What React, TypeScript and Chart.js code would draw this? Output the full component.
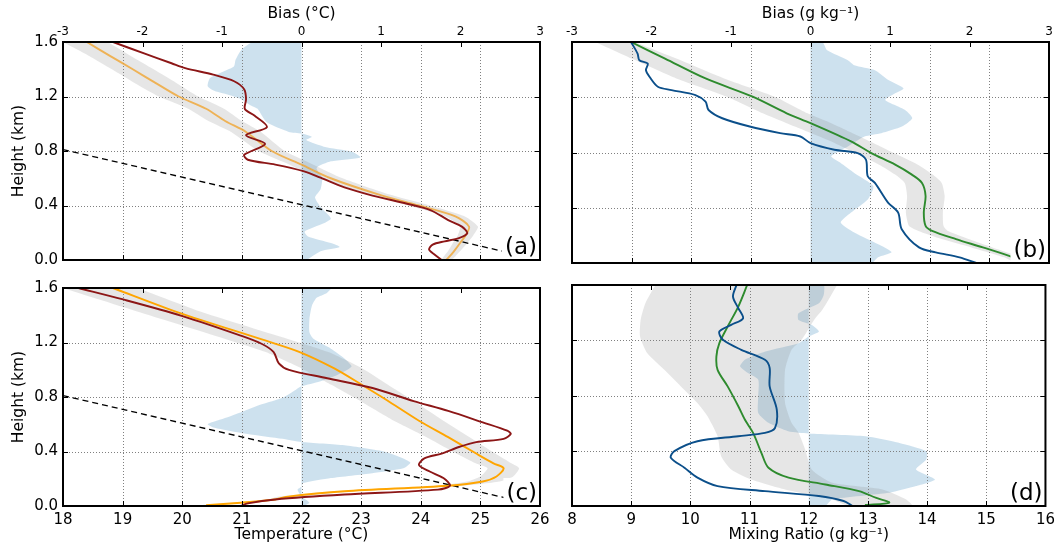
import React, { useEffect, useRef } from "react";
import { Chart, registerables } from "chart.js";

Chart.register(...registerables);

const FONT = "'DejaVu Sans', sans-serif";

// ---------- Tick labels ----------
const TEMP_TICKS = [18, 19, 20, 21, 22, 23, 24, 25, 26];
const MR_TICKS = [8, 9, 10, 11, 12, 13, 14, 15, 16];
const BIAS_TICKS = [-3, -2, -1, 0, 1, 2, 3];
const HEIGHT_TICKS = [0, 0.4, 0.8, 1.2, 1.6];

// ---------- Panel (a): temperature, case 1 ----------
const aModH = [1.6, 1.5, 1.4, 1.3, 1.2, 1.11, 1.02, 0.94, 0.8, 0.7, 0.6, 0.48, 0.4, 0.32, 0.245, 0.18, 0.125, 0.06, 0];
const aModT = [18.4, 18.78, 19.17, 19.55, 19.94, 20.4, 20.72, 21.07, 21.5, 22.0, 22.49, 23.3, 23.97, 24.58, 24.81, 24.75, 24.66, 24.55, 24.43];
const aBandLo = [18.0, 18.43, 18.82, 19.2, 19.61, 20.1, 20.44, 20.82, 21.28, 21.8, 22.29, 23.12, 23.79, 24.42, 24.66, 24.62, 24.54, 24.45, 24.35];
const aBandHi = [18.75, 19.13, 19.52, 19.9, 20.27, 20.7, 21.0, 21.32, 21.72, 22.2, 22.69, 23.48, 24.15, 24.74, 24.96, 24.88, 24.78, 24.65, 24.51];
const aObsH = [1.6, 1.516, 1.444, 1.408, 1.36, 1.312, 1.252, 1.18, 1.108, 1.06, 0.976, 0.916, 0.852, 0.772, 0.736, 0.7, 0.652, 0.604, 0.533, 0.473, 0.413, 0.365, 0.293, 0.245, 0.197, 0.161, 0.137, 0.113, 0.077, 0.041, 0];
const aObsT = [18.84, 19.36, 19.82, 20.05, 20.52, 20.87, 21.04, 21.07, 21.05, 21.21, 21.42, 21.07, 21.39, 21.04, 21.1, 21.56, 22.03, 22.32, 22.72, 23.19, 23.77, 24.17, 24.46, 24.69, 24.78, 24.64, 24.4, 24.2, 24.14, 24.23, 24.35];
const aBiasH = [1.6, 1.54, 1.468, 1.42, 1.384, 1.336, 1.276, 1.24, 1.216, 1.18, 1.132, 1.108, 1.012, 0.94, 0.928, 0.904, 0.88, 0.832, 0.796, 0.753, 0.724, 0.676, 0.604, 0.52, 0.46, 0.389, 0.305, 0.269, 0.209, 0.173, 0.125, 0.096, 0.065, 0];
const aBiasV = [-0.61, -0.76, -0.83, -0.85, -0.98, -1.15, -1.18, -1.09, -0.94, -0.76, -0.63, -0.55, -0.44, -0.16, 0, 0.13, 0.06, 0.28, 0.63, 0.74, 0.37, 0.19, 0.26, 0.24, 0.17, 0.24, 0.37, 0.28, 0.04, 0.08, 0.37, 0.48, 0.24, 0.06];

// ---------- Panel (b): mixing ratio, case 1 ----------
const bModH = [1.6, 1.48, 1.336, 1.204, 1.084, 1.012, 0.88, 0.796, 0.712, 0.64, 0.58, 0.485, 0.365, 0.269, 0.233, 0.173, 0.113, 0.041, 0];
const bModM = [8.99, 9.56, 10.24, 11.03, 11.6, 12.0, 12.68, 13.02, 13.42, 13.7, 13.87, 13.93, 13.9, 13.93, 14.04, 14.44, 14.89, 15.4, 15.6];
const bBandLo = [8.39, 9.0, 9.75, 10.6, 11.2, 11.6, 12.35, 12.75, 13.15, 13.42, 13.58, 13.62, 13.6, 13.65, 13.8, 14.2, 14.7, 15.25, 15.45];
const bBandHi = [9.05, 9.75, 10.55, 11.4, 11.95, 12.35, 13.0, 13.4, 13.8, 14.05, 14.2, 14.25, 14.22, 14.23, 14.3, 14.65, 15.05, 15.55, 15.75];
const bObsH = [1.6, 1.516, 1.468, 1.444, 1.396, 1.348, 1.276, 1.252, 1.216, 1.168, 1.108, 1.048, 0.988, 0.94, 0.916, 0.868, 0.82, 0.796, 0.748, 0.628, 0.58, 0.437, 0.365, 0.245, 0.113, 0.077, 0.041, 0];
const bObsM = [8.99, 9.1, 9.13, 9.27, 9.24, 9.3, 9.44, 9.67, 10.07, 10.24, 10.29, 10.52, 10.98, 11.49, 11.83, 12.0, 12.4, 12.79, 12.93, 12.96, 13.08, 13.3, 13.47, 13.53, 13.82, 14.1, 14.5, 14.78];
const bBiasH = [1.6, 1.54, 1.468, 1.432, 1.396, 1.324, 1.264, 1.228, 1.18, 1.108, 1.048, 0.988, 0.94, 0.916, 0.844, 0.772, 0.724, 0.652, 0.556, 0.46, 0.365, 0.293, 0.221, 0.125, 0.077, 0.041, 0];
const bBiasV = [0.15, 0.21, 0.47, 0.55, 0.81, 0.98, 1.17, 1.06, 0.94, 1.19, 1.28, 1.15, 0.89, 0.68, 0.47, 0.26, 0.38, 0.55, 0.79, 0.72, 0.51, 0.38, 0.55, 0.89, 1.02, 0.85, 0.77];

// ---------- Panel (c): temperature, case 2 ----------
const cModH = [1.6, 1.42, 1.215, 1.13, 1.01, 0.89, 0.78, 0.626, 0.505, 0.385, 0.313, 0.277, 0.217, 0.18, 0.149, 0.108, 0.067, 0.048, 0.024, 0.005];
const cModT = [18.84, 19.94, 21.39, 21.97, 22.55, 23.01, 23.42, 23.97, 24.46, 24.93, 25.22, 25.39, 25.27, 25.04, 24.46, 22.72, 21.74, 21.56, 20.98, 20.4];
const cBandLo = [18.0, 19.3, 20.8, 21.4, 22.0, 22.5, 22.95, 23.55, 24.1, 24.6, 24.92, 25.12, 25.0, 24.78, 24.25, 22.55, 21.6, 21.45, 20.85, 20.28];
const cBandHi = [19.25, 20.35, 21.85, 22.45, 23.02, 23.45, 23.85, 24.38, 24.82, 25.25, 25.52, 25.65, 25.55, 25.32, 24.7, 22.9, 21.9, 21.7, 21.1, 20.52];
const cObsH = [1.6, 1.516, 1.396, 1.251, 1.191, 1.131, 1.047, 0.999, 0.938, 0.866, 0.77, 0.698, 0.614, 0.553, 0.529, 0.493, 0.469, 0.433, 0.385, 0.349, 0.301, 0.253, 0.205, 0.149, 0.12, 0.084, 0.048, 0.019, 0];
const cObsT = [18.26, 19.01, 19.99, 20.98, 21.33, 21.53, 21.62, 21.79, 22.43, 23.19, 23.88, 24.46, 25.04, 25.45, 25.51, 25.39, 24.93, 24.64, 24.35, 24.06, 23.97, 24.15, 24.38, 24.49, 24.29, 22.72, 21.56, 21.1, 20.98];
const cBiasH = [1.6, 1.564, 1.528, 1.468, 1.372, 1.275, 1.227, 1.155, 1.083, 1.023, 0.962, 0.914, 0.878, 0.854, 0.794, 0.746, 0.698, 0.65, 0.602, 0.577, 0.529, 0.493, 0.469, 0.445, 0.397, 0.349, 0.318, 0.277, 0.241, 0.205, 0.168, 0.144, 0.12, 0.072, 0.024, 0];
const cBiasV = [0.37, 0.32, 0.19, 0.13, 0.1, 0.1, 0.15, 0.37, 0.54, 0.63, 0.45, 0.23, 0, -0.07, -0.24, -0.5, -0.72, -0.94, -1.18, -1.11, -0.68, -0.24, 0, 0.54, 1.06, 1.28, 1.37, 1.28, 0.89, 0.37, 0.02, 0, -0.05, 0, 0.1, 0.02];

// ---------- Panel (d): mixing ratio, case 2 ----------
const dModH = [1.6, 1.444, 1.299, 1.179, 1.083, 0.986, 0.866, 0.722, 0.626, 0.529, 0.385, 0.277, 0.205, 0.156, 0.108, 0.06, 0.024, 0.007];
const dModM = [10.96, 10.81, 10.63, 10.49, 10.44, 10.46, 10.63, 10.81, 10.92, 11.06, 11.2, 11.32, 11.66, 12.28, 12.85, 13.13, 13.36, 12.95];
const dBandLoH = [1.6, 1.468, 1.347, 1.227, 1.107, 0.986, 0.866, 0.746, 0.65, 0.505, 0.361, 0.265, 0.192, 0.12, 0.048, 0];
const dBandLoM = [9.41, 9.24, 9.16, 9.15, 9.27, 9.56, 9.84, 10.12, 10.29, 10.46, 10.52, 10.69, 11.03, 11.6, 12.39, 12.68];
const dBandHiH = [1.6, 1.42, 1.347, 1.203, 1.131, 0.986, 0.746, 0.602, 0.529, 0.409, 0.265, 0.168, 0.12, 0.048, 0];
const dBandHiM = [12.48, 12.23, 12.09, 11.88, 11.71, 11.6, 11.6, 11.71, 11.83, 11.94, 12.05, 12.4, 13.25, 13.64, 13.75];
const dObsH = [1.6, 1.516, 1.432, 1.359, 1.311, 1.263, 1.203, 1.131, 1.059, 0.999, 0.866, 0.698, 0.565, 0.529, 0.505, 0.469, 0.397, 0.349, 0.277, 0.205, 0.144, 0.108, 0.072, 0.036, 0];
const dObsM = [10.78, 10.72, 10.81, 10.89, 10.69, 10.49, 10.55, 10.86, 11.26, 11.34, 11.34, 11.46, 11.43, 11.26, 10.81, 10.12, 9.73, 9.67, 9.9, 10.12, 10.46, 11.26, 12.17, 12.59, 12.74];
const dBiasH = [1.6, 1.528, 1.468, 1.396, 1.347, 1.311, 1.263, 1.227, 1.179, 1.119, 1.059, 1.011, 0.962, 0.914, 0.794, 0.674, 0.602, 0.541, 0.525, 0.505, 0.457, 0.397, 0.337, 0.265, 0.192, 0.144, 0.096, 0.048, 0];
const dBiasV = [0.19, 0.19, 0.13, -0.13, -0.13, 0.04, 0.13, 0, -0.13, -0.55, -0.81, -0.87, -0.77, -0.64, -0.64, -0.64, -0.51, -0.26, 0, 0.72, 1.15, 1.49, 1.49, 1.36, 1.6, 1.36, 1.02, 0.3, 0.21];

// ---------- Dashed reference line ----------
const dashT = [18, 25.42];
const dashH = [0.81, 0.06];

// ---------- Colours ----------
const RED = "#8c1616";
const ORANGE_A = "rgba(240,165,50,0.8)";
const ORANGE_C = "#ffa500";
const GREEN = "#2e8b2e";
const NAVY = "#0b4f8a";
const BIAS_FILL = "rgba(102,163,204,0.33)";
const BAND_FILL = "rgba(128,128,128,0.2)";

type Pt = { x: number; y: number };
const pts = (xs: number[], ys: number[]): Pt[] => xs.map((x, i) => ({ x, y: ys[i] }));
const biasPoly = (vals: number[], hs: number[]): Pt[] => [
  { x: 0, y: hs[0] },
  ...pts(vals, hs),
  { x: 0, y: hs[hs.length - 1] },
];
const bandPoly = (loX: number[], loH: number[], hiX: number[], hiH: number[]): Pt[] => [
  ...pts(loX, loH),
  ...pts(hiX, hiH).reverse(),
];

const lineDS = (data: Pt[], color: string, extra: any = {}) => ({
  data,
  borderColor: color,
  borderWidth: 1.9,
  pointRadius: 0,
  tension: 0.3,
  fill: false,
  xAxisID: "x",
  yAxisID: "y",
  ...extra,
});
const fillDS = (data: Pt[], color: string, xAxisID: string) => ({
  data,
  borderColor: "rgba(0,0,0,0)",
  borderWidth: 0,
  backgroundColor: color,
  pointRadius: 0,
  tension: 0.2,
  fill: "shape",
  xAxisID,
  yAxisID: "y",
});

interface Panel {
  label: string;
  col: number;
  row: number;
  xMin: number;
  xMax: number;
  xTicks: number[];
  xTitle: string;
  biasTitle: string;
  datasets: any[];
}

const panels: Panel[] = [
  {
    label: "(a)", col: 0, row: 0, xMin: 18, xMax: 26, xTicks: TEMP_TICKS,
    xTitle: "Temperature (°C)", biasTitle: "Bias (°C)",
    datasets: [
      lineDS(pts(aObsT, aObsH), RED),
      lineDS(pts(aModT, aModH), ORANGE_A),
      lineDS(pts(dashT, dashH), "#000", { borderWidth: 1.3, borderDash: [6, 4], tension: 0 }),
      fillDS(bandPoly(aBandLo, aModH, aBandHi, aModH), BAND_FILL, "x"),
      fillDS(biasPoly(aBiasV, aBiasH), BIAS_FILL, "xb"),
    ],
  },
  {
    label: "(b)", col: 1, row: 0, xMin: 8, xMax: 16, xTicks: MR_TICKS,
    xTitle: "Mixing Ratio (g kg⁻¹)", biasTitle: "Bias (g kg⁻¹)",
    datasets: [
      lineDS(pts(bObsM, bObsH), NAVY),
      lineDS(pts(bModM, bModH), GREEN),
      fillDS(bandPoly(bBandLo, bModH, bBandHi, bModH), BAND_FILL, "x"),
      fillDS(biasPoly(bBiasV, bBiasH), BIAS_FILL, "xb"),
    ],
  },
  {
    label: "(c)", col: 0, row: 1, xMin: 18, xMax: 26, xTicks: TEMP_TICKS,
    xTitle: "Temperature (°C)", biasTitle: "Bias (°C)",
    datasets: [
      lineDS(pts(cObsT, cObsH), RED),
      lineDS(pts(cModT, cModH), ORANGE_C),
      lineDS(pts(dashT, dashH), "#000", { borderWidth: 1.3, borderDash: [6, 4], tension: 0 }),
      fillDS(bandPoly(cBandLo, cModH, cBandHi, cModH), BAND_FILL, "x"),
      fillDS(biasPoly(cBiasV, cBiasH), BIAS_FILL, "xb"),
    ],
  },
  {
    label: "(d)", col: 1, row: 1, xMin: 8, xMax: 16, xTicks: MR_TICKS,
    xTitle: "Mixing Ratio (g kg⁻¹)", biasTitle: "Bias (g kg⁻¹)",
    datasets: [
      lineDS(pts(dObsM, dObsH), NAVY),
      lineDS(pts(dModM, dModH), GREEN),
      fillDS(bandPoly(dBandLoM, dBandLoH, dBandHiM, dBandHiH), BAND_FILL, "x"),
      fillDS(biasPoly(dBiasV, dBiasH), BIAS_FILL, "xb"),
    ],
  },
];

// canvas geometry (page pixels)
const COL_LEFT = [0, 556];
const COL_W = [556, 504];
const ROW_TOP = [0, 274];
const ROW_H = [274, 272];

const decorPlugin = {
  id: "decor",
  afterDatasetDraw(chart: any, args: any, opts: any) {
    if (args.index !== opts.gridAfter) return;
    const { ctx, chartArea: a } = chart;
    const xs = chart.scales.x;
    const ys = chart.scales.y;
    ctx.save();
    ctx.strokeStyle = "#808080";
    ctx.lineWidth = 1;
    ctx.setLineDash([1, 2]);
    for (const t of opts.xTicks as number[]) {
      if (t <= xs.min || t >= xs.max) continue;
      const px = Math.round(xs.getPixelForValue(t)) + 0.5;
      ctx.beginPath();
      ctx.moveTo(px, a.top);
      ctx.lineTo(px, a.bottom);
      ctx.stroke();
    }
    for (const t of HEIGHT_TICKS) {
      if (t <= 0 || t >= 1.6) continue;
      const py = Math.round(ys.getPixelForValue(t)) + 0.5;
      ctx.beginPath();
      ctx.moveTo(a.left, py);
      ctx.lineTo(a.right, py);
      ctx.stroke();
    }
    ctx.restore();
  },
  afterDatasetsDraw(chart: any, _args: any, opts: any) {
    const { ctx, chartArea: a } = chart;
    const xs = chart.scales.x;
    const xb = chart.scales.xb;
    const ys = chart.scales.y;
    ctx.save();
    // panel label box
    ctx.font = `23px ${FONT}`;
    const tw = ctx.measureText(opts.label).width;
    const bw = tw + 6;
    const bh = 28;
    ctx.fillStyle = "#fff";
    ctx.fillRect(a.right - bw, a.bottom - bh, bw, bh);
    ctx.fillStyle = "#000";
    ctx.textAlign = "right";
    ctx.textBaseline = "alphabetic";
    ctx.fillText(opts.label, a.right - 3, a.bottom - 6);
    // inward ticks
    ctx.strokeStyle = "#000";
    ctx.lineWidth = 1;
    const TL = 5;
    for (const t of opts.xTicks as number[]) {
      const px = Math.round(xs.getPixelForValue(t)) + 0.5;
      ctx.beginPath();
      ctx.moveTo(px, a.bottom);
      ctx.lineTo(px, a.bottom - TL);
      ctx.stroke();
    }
    for (const t of BIAS_TICKS) {
      const px = Math.round(xb.getPixelForValue(t)) + 0.5;
      ctx.beginPath();
      ctx.moveTo(px, a.top);
      ctx.lineTo(px, a.top + TL);
      ctx.stroke();
    }
    for (const t of HEIGHT_TICKS) {
      const py = Math.round(ys.getPixelForValue(t)) + 0.5;
      ctx.beginPath();
      ctx.moveTo(a.left, py);
      ctx.lineTo(a.left + TL, py);
      ctx.moveTo(a.right, py);
      ctx.lineTo(a.right - TL, py);
      ctx.stroke();
    }
    // frame
    ctx.lineWidth = 2;
    ctx.strokeRect(a.left, a.top, a.right - a.left, a.bottom - a.top);
    ctx.restore();
  },
};

function PanelChart({ p }: { p: Panel }) {
  const ref = useRef<HTMLCanvasElement | null>(null);
  useEffect(() => {
    if (!ref.current) return;
    const top = p.row === 0;
    const left = p.col === 0;
    const tickFont = { family: FONT, size: 15 };
    const titleFont = { family: FONT, size: 15.5 };
    const chart = new Chart(ref.current, {
      type: "line",
      data: { datasets: p.datasets },
      plugins: [decorPlugin],
      options: {
        responsive: false,
        animation: false,
        devicePixelRatio: 1,
        events: [],
        layout: {
          padding: {
            left: left ? 0 : 16,
            right: left ? 16 : 11,
            top: top ? 0 : 11,
            bottom: top ? 11 : 0,
          },
        },
        plugins: {
          legend: { display: false },
          tooltip: { enabled: false },
          decor: { label: p.label, xTicks: p.xTicks, gridAfter: p.datasets.length - 2 },
        } as any,
        scales: {
          x: {
            type: "linear",
            axis: "x",
            position: "bottom",
            min: p.xMin,
            max: p.xMax,
            display: !top,
            afterFit: !top ? (s: any) => { s.height = 40; } : undefined,
            ticks: {
              stepSize: 1,
              autoSkip: false,
              maxRotation: 0,
              padding: 5,
              color: "#000",
              font: tickFont,
              callback: (v: any) => `${v}`,
            },
            grid: { display: false, drawTicks: false },
            border: { display: false },
            title: { display: true, text: p.xTitle, color: "#000", font: titleFont, padding: { top: 0, bottom: 2 } },
          },
          xb: {
            type: "linear",
            axis: "x",
            position: "top",
            min: -3,
            max: 3,
            display: top,
            afterFit: top ? (s: any) => { s.height = 42; } : undefined,
            ticks: {
              stepSize: 1,
              autoSkip: false,
              maxRotation: 0,
              padding: 3,
              color: "#000",
              font: { family: FONT, size: 12 },
              callback: (v: any) => `${v}`,
            },
            grid: { display: false, drawTicks: false },
            border: { display: false },
            title: { display: true, text: p.biasTitle, color: "#000", font: titleFont, padding: { top: 5, bottom: 0 } },
          },
          y: {
            type: "linear",
            axis: "y",
            position: "left",
            min: 0,
            max: 1.6,
            display: left,
            afterFit: left ? (s: any) => { s.width = 63; } : undefined,
            ticks: {
              stepSize: 0.4,
              autoSkip: false,
              padding: 5,
              color: "#000",
              font: tickFont,
              callback: (v: any) => Number(v).toFixed(1),
            },
            grid: { display: false, drawTicks: false },
            border: { display: false },
            title: { display: true, text: "Height (km)", color: "#000", font: titleFont, padding: { top: 10, bottom: 0 } },
          },
        } as any,
      },
    } as any);
    return () => chart.destroy();
  }, [p]);
  return (
    <canvas
      ref={ref}
      width={COL_W[p.col]}
      height={ROW_H[p.row]}
      style={{
        position: "absolute",
        left: COL_LEFT[p.col],
        top: ROW_TOP[p.row],
        width: COL_W[p.col],
        height: ROW_H[p.row],
      }}
    />
  );
}

export default function App() {
  return (
    <div style={{ position: "absolute", left: 0, top: 0, width: 1060, height: 546, background: "#fff", overflow: "hidden" }}>
      {panels.map((p) => (
        <PanelChart key={p.label} p={p} />
      ))}
    </div>
  );
}
